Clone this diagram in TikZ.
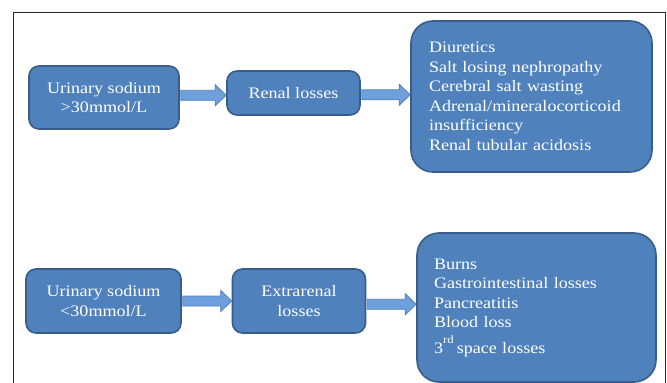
\documentclass[tikz,border=0pt]{standalone}
\usepackage{fontspec}
\setmainfont[FakeStretch=1.13]{Liberation Serif}
\usetikzlibrary{calc}
\definecolor{boxfill}{RGB}{79,129,189}
\definecolor{boxedge}{RGB}{56,93,138}
\definecolor{arrfill}{RGB}{110,160,222}
\definecolor{arredge}{RGB}{79,129,189}
\definecolor{framecol}{RGB}{40,40,40}
\tikzset{
  bluebox/.style={draw=boxedge, line width=1.6pt, fill=boxfill, text=white,
    rounded corners=#1, inner sep=0pt, align=center,
    font=\fontsize{16}{19.5}\selectfont},
  bluebox/.default=10pt,
  fatarrow/.style={draw=arredge, line width=0.8pt, fill=arrfill,
    to path={let \p1=(\tikztostart), \p2=(\tikztotarget), \n1={(\y1+\y2)/2} in
      (\x1+1,\n1-5) -- (\x2-11,\n1-5) -- (\x2-11,\n1-10.5) -- (\x2,\n1)
      -- (\x2-11,\n1+10.5) -- (\x2-11,\n1+5) -- (\x1+1,\n1+5) -- cycle}},
}
\begin{document}
\begin{tikzpicture}[x=1pt,y=-1pt]
\useasboundingbox (0,0) rectangle (667,383);
\fill[white] (0,0) rectangle (667,383);
\draw[framecol, line width=0.8pt] (13.7,395) -- (13.7,12.3) -- (665.5,12.3) -- (665.5,395);

\node[bluebox, minimum width=150pt, minimum height=63pt] (u1) at (104,97.5)
  {Urinary sodium\\>30mmol/L};
\node[bluebox, minimum width=133pt, minimum height=44pt] (r1) at (293.5,93)
  {Renal losses};
\node[bluebox=22pt, minimum width=241pt, minimum height=151pt, text width=205pt,
  inner xsep=18pt, align=left] (l1) at (531.5,96.5)
  {Diuretics\\Salt losing nephropathy\\Cerebral salt wasting\\Adrenal/mineralocorticoid\\insufficiency\\Renal tubular acidosis};

\node[bluebox, minimum width=155pt, minimum height=64pt] (u2) at (103.5,301)
  {Urinary sodium\\<30mmol/L};
\node[bluebox, minimum width=133pt, minimum height=64pt] (r2) at (299,301)
  {Extrarenal\\losses};
\node[bluebox=22pt, minimum width=239pt, minimum height=149pt, text width=205pt,
  inner xsep=17pt, align=left] (l2) at (536.5,307.5)
  {Burns\\Gastrointestinal losses\\Pancreatitis\\Blood loss\\[6pt]3\raisebox{3pt}{\textsuperscript{rd}}\,space losses};

\draw[fatarrow] (u1.east) to (r1.west);
\draw[fatarrow] (r1.east) to (l1.west);
\draw[fatarrow] (u2.east) to (r2.west);
\draw[fatarrow] (r2.east) to (l2.west);
\end{tikzpicture}
\end{document}
